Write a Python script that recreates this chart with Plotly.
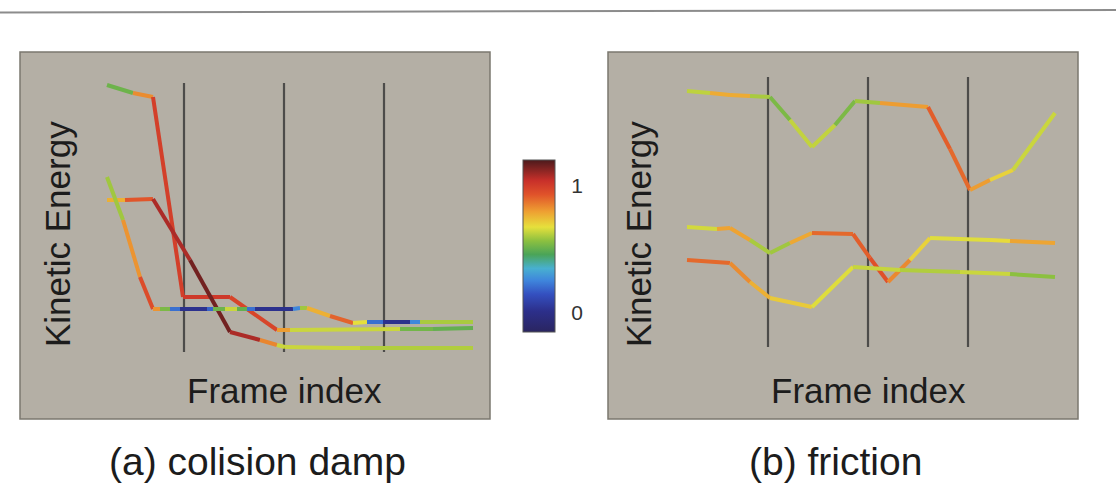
import plotly.graph_objects as go
from plotly.colors import sample_colorscale

W, H = 1116, 493

# ---------------- data (frame index, kinetic energy, colour value) ----------------
# Panel (a) colision damp
a1_x = [2.3, 4.9, 6.9, 9.9, 14.6, 19.3, 20.6, 31.6, 34.9, 38.9]
a1_y = [33.4, 32.6, 32.2, 12.2, 12.2, 8.9, 8.9, 9.0, 9.0, 9.1]
a1_c = [0.35, 0.68, 0.98, 1.0, 1.02, 0.92, 0.68, 0.6, 0.45, 0.55]

a2_x = [2.3, 4.1, 6.9, 10.6, 14.6, 17.6, 19.3, 20.1, 25.6, 27.6, 38.9]
a2_y = [21.9, 21.9, 22.0, 15.9, 8.7, 7.9, 7.4, 7.2, 7.1, 7.1, 7.1]
a2_c = [0.68, 0.85, 1.0, 1.15, 1.15, 1.0, 0.68, 0.6, 0.68, 0.6, 0.62]

a3_x = [2.3, 3.9, 5.6, 6.9, 7.6, 8.6, 9.6, 12.3, 12.9, 14.1, 15.3, 16.3, 17.1,
        20.9, 21.6, 22.3, 24.6, 26.9, 28.3, 29.9, 32.6, 33.6, 38.9]
a3_y = [24.2, 19.9, 14.2, 11.0, 11.0, 11.0, 11.0, 11.0, 11.0, 11.0, 11.0, 11.0, 11.0,
        11.0, 11.1, 11.1, 10.3, 9.6, 9.7, 9.7, 9.7, 9.7, 9.7]
a3_c = [0.5, 0.68, 0.95, 0.95, 0.68, 0.4, 0.02, 0.02, 0.35, 0.68, 0.6, 0.4, 0.02,
        0.02, 0.5, 0.68, 0.85, 0.95, 0.4, 0.02, 0.02, 0.5, 0.7]

# Panel (b) friction
b1_x = [1.9, 4.2, 6.2, 8.2, 10.2, 12.2, 14.4, 16.7, 18.7, 21.2, 26.0, 28.2, 30.2, 32.2, 34.5, 38.7]
b1_y = [32.8, 32.6, 32.4, 32.3, 32.2, 29.9, 27.2, 29.4, 31.8, 31.6, 31.2, 27.0, 22.9, 23.9, 24.9, 30.6]
b1_c = [0.55, 0.7, 0.85, 0.7, 0.5, 0.58, 0.68, 0.58, 0.5, 0.68, 0.92, 0.9, 0.88, 0.72, 0.68, 0.6]

b2_x = [1.9, 4.9, 6.2, 8.2, 10.2, 12.2, 14.4, 18.5, 20.2, 22.0, 24.2, 26.2, 32.2, 34.2, 38.7]
b2_y = [19.2, 19.0, 19.1, 17.9, 16.6, 17.6, 18.6, 18.5, 16.1, 13.7, 15.9, 18.1, 17.9, 17.8, 17.6]
b2_c = [0.6, 0.7, 0.88, 0.7, 0.5, 0.68, 0.88, 0.9, 0.92, 0.95, 0.72, 0.68, 0.65, 0.72, 0.85]

b3_x = [1.9, 6.2, 8.2, 10.2, 14.4, 18.5, 23.2, 29.2, 34.2, 38.7]
b3_y = [15.9, 15.6, 13.7, 12.1, 11.2, 15.2, 14.9, 14.7, 14.5, 14.2]
b3_c = [0.9, 0.88, 0.78, 0.75, 0.68, 0.65, 0.62, 0.6, 0.68, 0.45]

divider_frames = [10, 20, 30]
divider_span_a = [6.7, 33.6]
divider_span_b = [7.2, 34.2]

cbar_ticks = [0, 1]
cbar_labels = ["0", "1"]

titles = ["(a) colision damp", "(b) friction"]
ylabel = "Kinetic Energy"
xlabel = "Frame index"

# ---------------- style ----------------
CMIN, CMAX = -0.15, 1.2
colorscale = [
    [0.00, "rgb(42,37,96)"],
    [0.12, "rgb(44,47,138)"],
    [0.22, "rgb(52,80,192)"],
    [0.30, "rgb(63,134,220)"],
    [0.37, "rgb(72,176,208)"],
    [0.45, "rgb(74,164,88)"],
    [0.53, "rgb(140,192,64)"],
    [0.61, "rgb(230,224,60)"],
    [0.70, "rgb(238,160,50)"],
    [0.80, "rgb(224,82,42)"],
    [0.88, "rgb(200,48,42)"],
    [1.00, "rgb(76,26,28)"],
]
PANEL_BG = "#b4afa5"
PANEL_EDGE = "#7b786f"
DIVIDER = "#4d4c4a"
TEXT = "#1c1c1c"
FONT = "Liberation Sans, Arial, sans-serif"

fig = go.Figure()


def add_dividers(span, xa, ya):
    for f in divider_frames:
        fig.add_trace(go.Scatter(x=[f, f], y=span, mode="lines",
                                 line=dict(color=DIVIDER, width=2.2),
                                 xaxis=xa, yaxis=ya, showlegend=False, hoverinfo="skip"))


def add_series(x, y, c, xa, ya):
    for i in range(len(x) - 1):
        v = (c[i] + c[i + 1]) / 2
        col = sample_colorscale(colorscale, [(v - CMIN) / (CMAX - CMIN)])[0]
        fig.add_trace(go.Scatter(x=x[i:i + 2], y=y[i:i + 2], mode="lines",
                                 line=dict(color=col, width=4),
                                 xaxis=xa, yaxis=ya, showlegend=False, hoverinfo="skip"))


add_dividers(divider_span_a, "x", "y")
add_dividers(divider_span_b, "x2", "y2")
for sx, sy, sc in [(a1_x, a1_y, a1_c), (a2_x, a2_y, a2_c), (a3_x, a3_y, a3_c)]:
    add_series(sx, sy, sc, "x", "y")
for sx, sy, sc in [(b1_x, b1_y, b1_c), (b2_x, b2_y, b2_c), (b3_x, b3_y, b3_c)]:
    add_series(sx, sy, sc, "x2", "y2")

# colour bar host
fig.add_trace(go.Scatter(
    x=[None], y=[None], mode="markers", showlegend=False, hoverinfo="skip",
    marker=dict(color=[0], colorscale=colorscale, cmin=CMIN, cmax=CMAX, showscale=True,
                colorbar=dict(x=523 / W, xanchor="left", y=1 - 246 / H, yanchor="middle",
                              len=172 / H, lenmode="fraction", thickness=32,
                              xpad=0, ypad=0, outlinewidth=1, outlinecolor="#555555",
                              tickvals=cbar_ticks, ticktext=cbar_labels,
                              ticks="outside", ticklen=12, tickcolor="rgba(0,0,0,0)",
                              tickfont=dict(size=21, color="#333333", family=FONT))),
))

ydom = [1 - 419 / H, 1 - 52 / H]
fig.update_layout(
    width=W, height=H, margin=dict(l=0, r=0, t=0, b=0),
    paper_bgcolor="white", plot_bgcolor="rgba(0,0,0,0)",
    font=dict(family=FONT, color=TEXT),
    xaxis=dict(domain=[20 / W, 490 / W], range=[-6.4, 40.6], visible=False, anchor="y"),
    yaxis=dict(domain=ydom, range=[0, 36.7], visible=False, anchor="x"),
    xaxis2=dict(domain=[608 / W, 1078 / W], range=[-6.0, 41.0], visible=False, anchor="y2"),
    yaxis2=dict(domain=ydom, range=[0, 36.7], visible=False, anchor="x2"),
    showlegend=False,
)

shapes = []
for xr, yr in [("x domain", "y domain"), ("x2 domain", "y2 domain")]:
    shapes.append(dict(type="rect", xref=xr, yref=yr, x0=0, x1=1, y0=0, y1=1,
                       fillcolor=PANEL_BG, line=dict(color=PANEL_EDGE, width=1.5), layer="below"))
shapes.append(dict(type="line", xref="paper", yref="paper", x0=0, x1=1,
                   y0=1 - 12.5 / H, y1=1 - 10 / H, line=dict(color="#8c8c8c", width=2)))
fig.update_layout(shapes=shapes)

ann = []
for cx_label, cx_frame in [(57, 284), (638, 868)]:
    ann.append(dict(text=ylabel, x=cx_label / W, y=1 - 234 / H, xref="paper", yref="paper",
                    textangle=-90, showarrow=False, font=dict(size=35, color=TEXT),
                    xanchor="center", yanchor="middle"))
    ann.append(dict(text=xlabel, x=cx_frame / W, y=1 - 390 / H, xref="paper", yref="paper",
                    showarrow=False, font=dict(size=35, color=TEXT),
                    xanchor="center", yanchor="middle"))
for t, cx in zip(titles, [257, 835]):
    ann.append(dict(text=t, x=cx / W, y=1 - 461 / H, xref="paper", yref="paper",
                    showarrow=False, font=dict(size=39, color=TEXT),
                    xanchor="center", yanchor="middle"))
fig.update_layout(annotations=ann)

fig.write_html("out.html")
